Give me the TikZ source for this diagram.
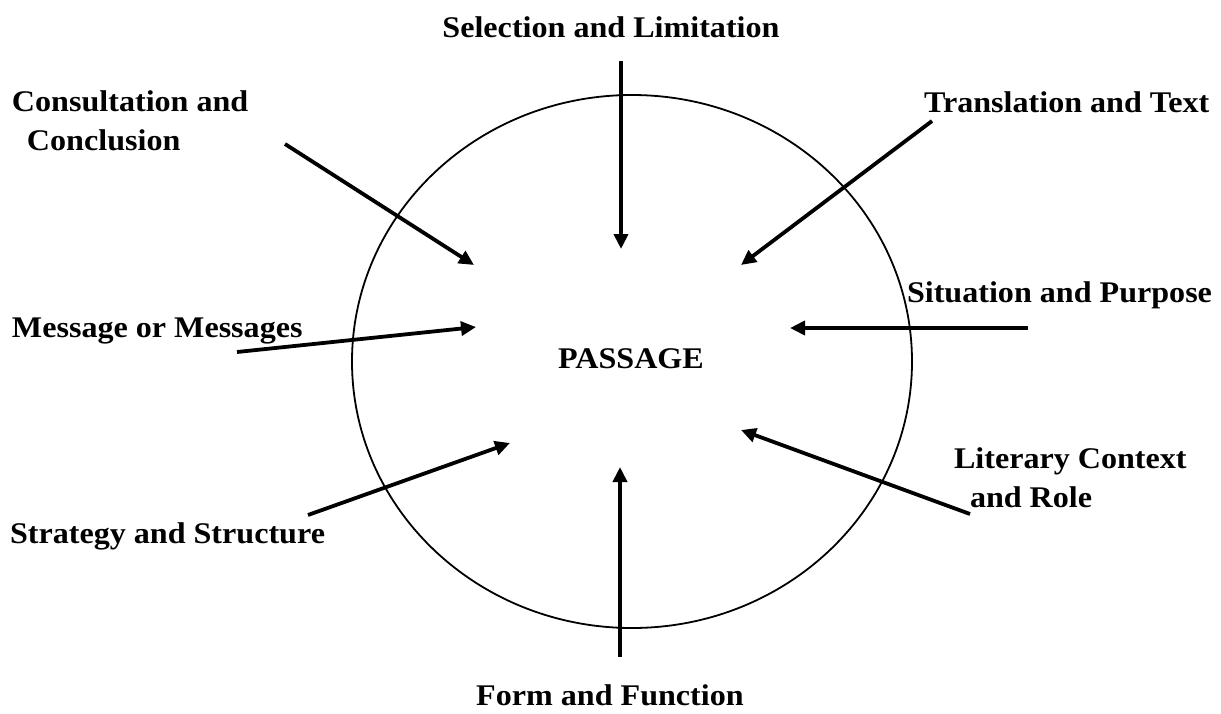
\documentclass[tikz,border=0pt]{standalone}
\usepackage{fontspec}
\setmainfont{Liberation Serif}[FakeStretch=1.07]
\usetikzlibrary{shapes.geometric,arrows.meta}
\begin{document}
\begin{tikzpicture}[x=1pt,y=-1pt,
  lbl/.style={font=\fontsize{30}{38.5}\selectfont\bfseries, inner sep=0pt, outer sep=0pt, align=left},
  arr/.style={line width=3.8pt, -{Triangle[length=15pt,width=14pt]}},
  ring/.style={draw, ellipse, line width=1.8pt, minimum width=560pt, minimum height=533pt, inner sep=0pt, outer sep=0pt}]
\useasboundingbox (0,0) rectangle (1221,713);
\node[ring] (circ) at (632,361.5) {};
\node[lbl, anchor=base] (pass) at (631,368) {PASSAGE};
\node[lbl, anchor=base] (sel) at (611,37) {Selection and Limitation};
\node[lbl, anchor=base west] (cons) at (12,150) {Consultation and\\\hspace*{15pt}Conclusion};
\node[lbl, anchor=base west] (trans) at (924,112) {Translation and Text};
\node[lbl, anchor=base west] (sit) at (907,302) {Situation and Purpose};
\node[lbl, anchor=base west] (msg) at (12,337) {Message or Messages};
\node[lbl, anchor=base west] (lit) at (954,507) {Literary Context\\\hspace*{16pt}and Role};
\node[lbl, anchor=base west] (strat) at (10,543) {Strategy and Structure};
\node[lbl, anchor=base] (form) at (610,705) {Form and Function};
\coordinate (selA) at (621,61);  \coordinate (selB) at (621,249);
\coordinate (trA) at (932,121);  \coordinate (trB) at (741,265);
\coordinate (siA) at (1028,328); \coordinate (siB) at (790,328);
\coordinate (liA) at (970,514);  \coordinate (liB) at (741,430);
\coordinate (foA) at (620,657);  \coordinate (foB) at (620,467);
\coordinate (stA) at (308,515);  \coordinate (stB) at (510,443);
\coordinate (meA) at (237,352);  \coordinate (meB) at (476,327);
\coordinate (coA) at (285,144);  \coordinate (coB) at (474,265);
\draw[arr] (selA) -- (selB);
\draw[arr] (trA) -- (trB);
\draw[arr] (siA) -- (siB);
\draw[arr] (liA) -- (liB);
\draw[arr] (foA) -- (foB);
\draw[arr] (stA) -- (stB);
\draw[arr] (meA) -- (meB);
\draw[arr] (coA) -- (coB);
\end{tikzpicture}
\end{document}
